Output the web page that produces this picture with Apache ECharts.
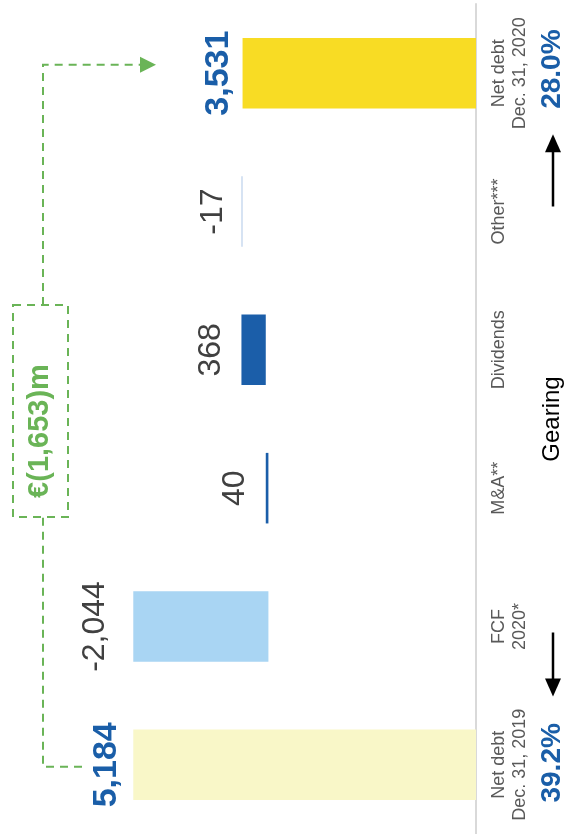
<!DOCTYPE html>
<html>
<head>
<meta charset="utf-8">
<script src="https://cdn.jsdelivr.net/npm/echarts@6/dist/echarts.min.js"></script>
<style>
  html, body { margin: 0; padding: 0; background: #ffffff; }
  #chart { width: 565px; height: 834px; }
</style>
</head>
<body>
<div id="chart"></div>
<script>
// Net debt bridge 2019 -> 2020 (EUR m), drawn as a rotated waterfall
const categories = ['Net debt\nDec. 31, 2019', 'FCF\n2020*', 'M&A**', 'Dividends', 'Other***', 'Net debt\nDec. 31, 2020'];
const openingNetDebt = 5184;
const movements = [-2044, 40, 368, -17];
const closingNetDebt = 3531;
const gearingValues = [39.2, 28.0];
const gearingTitle = 'Gearing';

const FONT = '"Liberation Sans", Arial, Helvetica, sans-serif';
const GREEN = '#6ab457';
const BLUE_TEXT = '#1a5ea8';

const fmt = v => {
  const s = Math.abs(v).toLocaleString('en-US');
  return (v < 0 ? '-' : '') + s;
};

// Build invisible base offsets and visible bar lengths for the waterfall
const baseData = [0];
const barData = [openingNetDebt];
let running = openingNetDebt;
movements.forEach(m => {
  const next = running + m;
  baseData.push(Math.min(running, next));
  barData.push(Math.abs(m));
  running = next;
});
baseData.push(0);
barData.push(closingNetDebt);

const signedValues = [openingNetDebt, ...movements, closingNetDebt];
const barColors = ['#f9f7c8', '#a9d5f3', '#1b5ea9', '#1b5ea9', '#b7cde9', '#f8dc24'];
const labelGap = [10, 22, 15, 14, 12, 7];

const chart = echarts.init(document.getElementById('chart'), null, { renderer: 'canvas' });

chart.setOption({
  animation: false,
  backgroundColor: '#ffffff',
  textStyle: { fontFamily: FONT },
  grid: { left: 0, right: 89, top: 4, bottom: -2, containLabel: false },
  xAxis: {
    type: 'value',
    min: 0,
    max: 7200,
    inverse: true,
    show: false,
    splitLine: { show: false }
  },
  yAxis: {
    type: 'category',
    data: categories,
    position: 'right',
    axisLine: { show: true, lineStyle: { color: '#d9d9d9', width: 2 } },
    axisTick: { show: false },
    axisLabel: {
      interval: 0,
      rotate: 90,
      align: 'center',
      verticalAlign: 'top',
      margin: 13,
      fontSize: 18,
      lineHeight: 21,
      color: '#595959',
      fontFamily: FONT
    }
  },
  series: [
    {
      name: 'base',
      type: 'bar',
      stack: 'bridge',
      barWidth: '51%',
      itemStyle: { color: 'transparent' },
      silent: true,
      data: baseData
    },
    {
      name: 'value',
      type: 'bar',
      stack: 'bridge',
      barWidth: '51%',
      data: barData.map((v, i) => {
        const isTotal = i === 0 || i === barData.length - 1;
        return {
          value: v,
          itemStyle: { color: barColors[i] },
          label: {
            show: true,
            position: 'left',
            distance: labelGap[i],
            rotate: 90,
            align: 'center',
            verticalAlign: 'bottom',
            fontFamily: FONT,
            fontSize: isTotal ? 34 : 32,
            fontWeight: isTotal ? 'bold' : 'normal',
            color: isTotal ? BLUE_TEXT : '#404040',
            formatter: () => fmt(signedValues[i])
          }
        };
      })
    }
  ]
});

// Annotations placed relative to the category positions
const yAt = i => chart.convertToPixel({ yAxisIndex: 0 }, i);
const y0 = yAt(0), y1 = yAt(1), y2 = yAt(2), y3 = yAt(3), y4 = yAt(4), y5 = yAt(5);
const mid23 = (y2 + y3) / 2;

const dash = { stroke: GREEN, lineWidth: 2, lineDash: [8, 6], fill: null };
const bracketX = 43;
const boxTop = mid23 - 114;
const boxBottom = mid23 + 98;
const arrowY = y5 - 8.5;
const changeTotal = openingNetDebt - closingNetDebt;

const rotText = (x, y, text, size, weight, color) => ({
  type: 'text',
  x: x, y: y,
  rotation: Math.PI / 2,
  silent: true,
  style: {
    text: text, x: 0, y: 0,
    align: 'center', verticalAlign: 'middle',
    fontFamily: FONT, fontSize: size, fontWeight: weight, fill: color
  }
});

const arrowBlack = (x, tail, tip) => {
  const dir = tip > tail ? 1 : -1;
  const headLen = 18;
  return [
    { type: 'line', silent: true,
      shape: { x1: x, y1: tail, x2: x, y2: tip - dir * (headLen - 2) },
      style: { stroke: '#000000', lineWidth: 2.5 } },
    { type: 'polygon', silent: true,
      shape: { points: [[x - 8, tip - dir * headLen], [x + 8, tip - dir * headLen], [x, tip]] },
      style: { fill: '#000000' } }
  ];
};

chart.setOption({
  graphic: [
    { type: 'polyline', silent: true,
      shape: { points: [[82, y0 + 2], [bracketX, y0 + 2], [bracketX, boxBottom]] }, style: dash },
    { type: 'polyline', silent: true,
      shape: { points: [[bracketX, boxTop], [bracketX, arrowY], [140, arrowY]] }, style: dash },
    { type: 'polygon', silent: true,
      shape: { points: [[140, arrowY - 8], [156, arrowY], [140, arrowY + 8]] },
      style: { fill: GREEN } },
    { type: 'rect', silent: true,
      shape: { x: 13, y: boxTop, width: 55, height: boxBottom - boxTop },
      style: dash },
    rotText(40, mid23 + 12, '€(' + fmt(changeTotal) + ')m', 29, 'bold', GREEN),
    rotText(552, mid23, gearingTitle, 24, 'normal', '#000000'),
    rotText(552, y0 - 2, gearingValues[0].toFixed(1) + '%', 28, 'bold', BLUE_TEXT),
    rotText(552, y5 - 4, gearingValues[1].toFixed(1) + '%', 28, 'bold', BLUE_TEXT),
    ...arrowBlack(553, y1 + 6, y1 + 70),
    ...arrowBlack(553, y4 - 5, y5 + 61)
  ]
});
</script>
</body>
</html>
